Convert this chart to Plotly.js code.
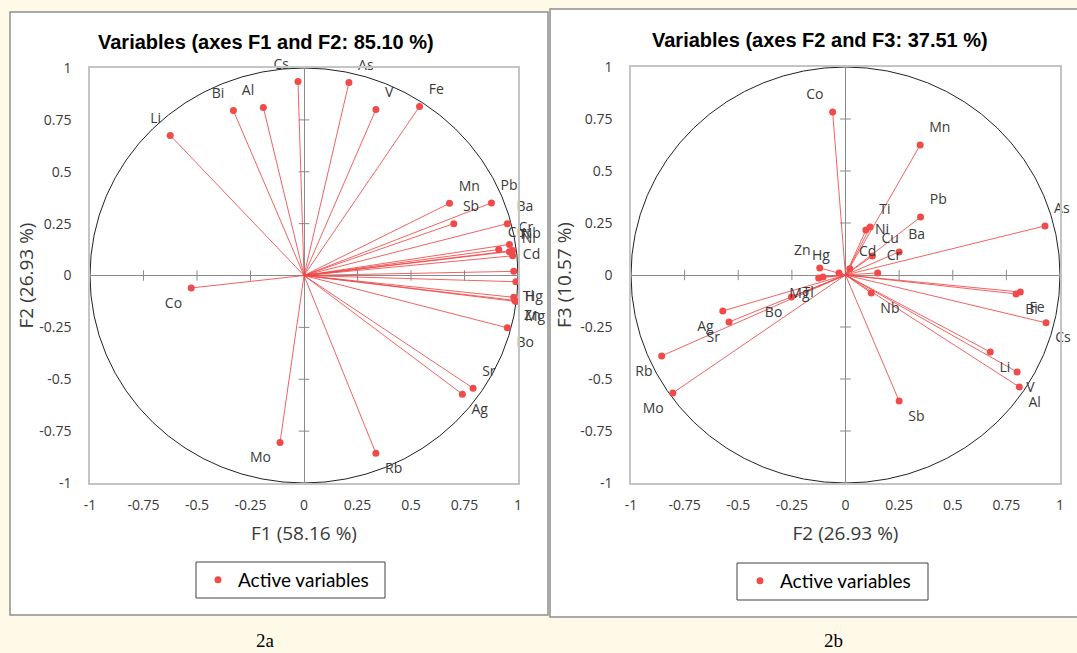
<!DOCTYPE html>
<html>
<head>
<meta charset="utf-8">
<script src="https://cdn.plot.ly/plotly-3.0.1.min.js"></script>
<style>
  html, body { margin: 0; padding: 0; background: #FFFAE8; }
  #chart { width: 1077px; height: 653px; }
</style>
</head>
<body>
<div id="chart"></div>
<script>
// ---- Data ----
const variables = ["Cs","As","V","Fe","Al","Bi","Li","Co","Mo","Rb","Ag","Sr","Mn","Pb","Sb","Ba","Cr","Cu","Ti","Nb","Ni","Cd","Hg","Tl","Mg","Zn","Bo"];
const F1 = [-0.028, 0.21, 0.336, 0.54, -0.19, -0.33, -0.625, -0.527, -0.112, 0.336, 0.74, 0.79, 0.68, 0.876, 0.70, 0.95, 0.96, 0.91, 0.96, 0.975, 0.975, 0.98, 0.99, 0.98, 0.99, 0.985, 0.95];
const F2 = [0.935, 0.93, 0.80, 0.815, 0.81, 0.795, 0.675, -0.06, -0.805, -0.857, -0.572, -0.543, 0.348, 0.35, 0.25, 0.25, 0.15, 0.125, 0.115, 0.12, 0.095, 0.02, -0.03, -0.105, -0.125, -0.12, -0.252];
const F3 = [-0.23, 0.236, -0.466, -0.082, -0.538, -0.091, -0.37, 0.784, -0.567, -0.389, -0.173, -0.226, 0.625, 0.279, -0.606, 0.111, 0.01, 0.091, 0.231, -0.087, 0.216, 0.03, 0.01, -0.01, -0.014, 0.034, -0.106];

const labelPosA = ["top left","top right","top right","top right","top left","top left","top left","bottom left","bottom left","bottom right","bottom right","top right","top right","top right","top right","top right","top right","top right","top right","top right","top right","top right","bottom right","middle right","bottom right","bottom right","bottom right"];
const labelPosB = ["bottom right","top right","bottom right","bottom right","bottom right","bottom right","bottom right","top left","bottom left","bottom left","bottom left","bottom left","top right","top right","bottom right","top right","top right","top right","top right","bottom right","middle right","top right","top left","bottom left","bottom left","top left","bottom left"];

const tickVals = [-1, -0.75, -0.5, -0.25, 0, 0.25, 0.5, 0.75, 1];
const tickText = ["-1", "-0.75", "-0.5", "-0.25", "0", "0.25", "0.5", "0.75", "1"];

const titleA = "Variables (axes F1 and F2: 85.10 %)";
const titleB = "Variables (axes F2 and F3: 37.51 %)";
const axisTitleF1 = "F1 (58.16 %)";
const axisTitleF2 = "F2 (26.93 %)";
const axisTitleF3 = "F3 (10.57 %)";
const legendName = "Active variables";
const captions = ["2a", "2b"];

// ---- Helpers ----
const W = 1077, H = 653;
const px = v => v / W;
const py = v => 1 - v / H;
const RED = "#F04A4A";
const LINE_RED = "rgba(238,72,72,0.85)";

function vectorTrace(xs, ys, xa, ya) {
  const x = [], y = [];
  xs.forEach((v, i) => { x.push(0, v, null); y.push(0, ys[i], null); });
  return { type: "scatter", mode: "lines", x, y, xaxis: xa, yaxis: ya,
           line: { color: LINE_RED, width: 1 }, hoverinfo: "skip", showlegend: false };
}
function markerTrace(xs, ys, xa, ya, legendId) {
  return { type: "scatter", mode: "markers", x: xs, y: ys, xaxis: xa, yaxis: ya,
           name: legendName, legend: legendId, showlegend: true, cliponaxis: false,
           marker: { color: RED, size: 7 }, text: variables, hoverinfo: "text" };
}
function textTrace(xs, ys, xa, ya, pos) {
  return { type: "scatter", mode: "markers+text", x: xs, y: ys, xaxis: xa, yaxis: ya,
           text: variables, textposition: pos, cliponaxis: false, showlegend: false,
           hoverinfo: "skip", marker: { size: 13, color: "rgba(0,0,0,0)" },
           textfont: { family: "Open Sans, Noto Sans, sans-serif", size: 14, color: "#3a3a3a" } };
}

const data = [
  vectorTrace(F1, F2, "x", "y"),
  markerTrace(F1, F2, "x", "y", "legend"),
  textTrace(F1, F2, "x", "y", labelPosA),
  vectorTrace(F2, F3, "x2", "y2"),
  markerTrace(F2, F3, "x2", "y2", "legend2"),
  textTrace(F2, F3, "x2", "y2", labelPosB)
];

const tickFont = { family: "Open Sans, Noto Sans, sans-serif", size: 14, color: "#3a3a3a" };
const axTitleFont = { family: "Open Sans, Noto Sans, sans-serif", size: 19, color: "#3a3a3a" };
function axis(domain, title, anchor, standoff, lblStandoff) {
  return {
    domain, anchor, range: [-1, 1], tickmode: "array", tickvals: tickVals, ticktext: tickText,
    showgrid: false, zeroline: true, zerolinecolor: "#8a8a8a", zerolinewidth: 1,
    showline: true, mirror: true, linecolor: "#c4c4c4", linewidth: 1.5,
    ticks: "", tickfont: tickFont, ticklabelstandoff: lblStandoff, fixedrange: true,
    title: { text: title, font: axTitleFont, standoff }
  };
}

const shapes = [];
// panels
shapes.push({ type: "rect", xref: "paper", yref: "paper", layer: "below",
  x0: px(10), x1: px(548), y0: py(615), y1: py(12),
  fillcolor: "#ffffff", line: { color: "#8f8f8f", width: 1.5 } });
shapes.push({ type: "rect", xref: "paper", yref: "paper", layer: "below",
  x0: px(550), x1: px(1085), y0: py(617), y1: py(9),
  fillcolor: "#ffffff", line: { color: "#8f8f8f", width: 1.5 } });
// legend boxes
shapes.push({ type: "rect", xref: "paper", yref: "paper",
  x0: px(196), x1: px(385), y0: py(598), y1: py(562),
  line: { color: "#404040", width: 1 } });
shapes.push({ type: "rect", xref: "paper", yref: "paper",
  x0: px(737), x1: px(928), y0: py(600), y1: py(563),
  line: { color: "#404040", width: 1 } });
// correlation circles and cross ticks on the zero axes, built from tick values
[["x","y"],["x2","y2"]].forEach(([xa, ya]) => {
  shapes.push({ type: "circle", xref: xa, yref: ya, x0: -1, y0: -1, x1: 1, y1: 1,
    line: { color: "#222222", width: 1 }, layer: "below" });
  tickVals.forEach(t => {
    if (t === 0 || Math.abs(t) === 1) return;
    shapes.push({ type: "line", xref: xa, yref: ya, x0: t, x1: t, y0: -0.025, y1: 0.025,
      line: { color: "#8a8a8a", width: 1 }, layer: "below" });
    shapes.push({ type: "line", xref: xa, yref: ya, y0: t, y1: t, x0: -0.025, x1: 0.025,
      line: { color: "#8a8a8a", width: 1 }, layer: "below" });
  });
});

const titleFont = { family: "Liberation Sans, Arial, sans-serif", size: 20, color: "#000000" };
const capFont = { family: "Liberation Serif, DejaVu Serif, serif", size: 19, color: "#000000" };
const legendFont = { family: "Lato, Open Sans, sans-serif", size: 19, color: "#000000" };

const layout = {
  width: W, height: H,
  margin: { l: 0, r: 0, t: 0, b: 0 },
  paper_bgcolor: "#FFFAE8",
  plot_bgcolor: "#ffffff",
  xaxis: axis([px(90), px(518)], axisTitleF1, "y", 14, 8),
  yaxis: axis([py(483), py(68)], axisTitleF2, "x", 1, 14),
  xaxis2: axis([px(631), px(1060)], axisTitleF2, "y2", 14, 8),
  yaxis2: axis([py(483), py(67)], axisTitleF3, "x2", 4, 14),
  showlegend: true,
  legend: { x: px(286), y: py(580), xanchor: "center", yanchor: "middle",
            bgcolor: "rgba(0,0,0,0)", borderwidth: 0, font: legendFont, itemclick: false },
  legend2: { x: px(828), y: py(581), xanchor: "center", yanchor: "middle",
             bgcolor: "rgba(0,0,0,0)", borderwidth: 0, font: legendFont, itemclick: false },
  shapes,
  annotations: [
    { text: "<b>" + titleA + "</b>", xref: "paper", yref: "paper", x: px(266), y: py(42),
      xanchor: "center", yanchor: "middle", showarrow: false, font: titleFont },
    { text: "<b>" + titleB + "</b>", xref: "paper", yref: "paper", x: px(820), y: py(40),
      xanchor: "center", yanchor: "middle", showarrow: false, font: titleFont },
    { text: captions[0], xref: "paper", yref: "paper", x: px(265), y: py(640),
      xanchor: "center", yanchor: "middle", showarrow: false, font: capFont },
    { text: captions[1], xref: "paper", yref: "paper", x: px(833), y: py(640),
      xanchor: "center", yanchor: "middle", showarrow: false, font: capFont }
  ],
  hovermode: "closest"
};

Plotly.newPlot("chart", data, layout, { displayModeBar: false });
</script>
</body>
</html>
